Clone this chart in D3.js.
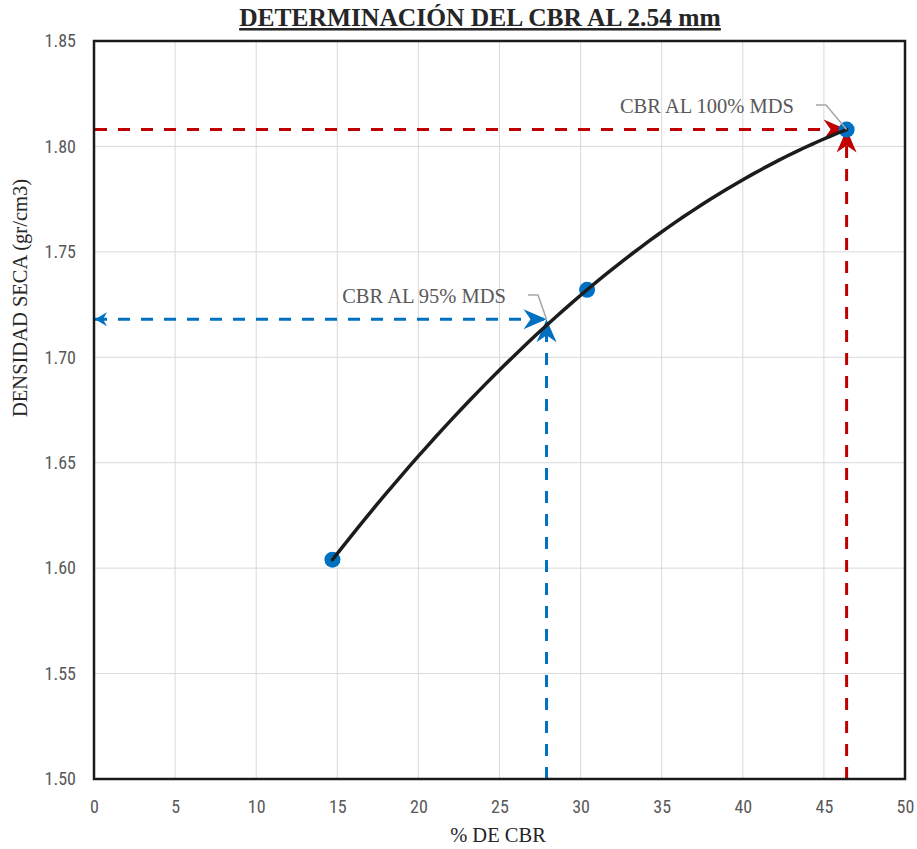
<!DOCTYPE html>
<html><head><meta charset="utf-8">
<script src="https://cdn.jsdelivr.net/npm/d3@7"></script>
<style>body{margin:0;background:#fff}</style>
</head><body><svg id="c" width="917" height="849"></svg>
<script>
const cbr = [14.7, 30.4, 46.4];
const density = [1.604, 1.732, 1.808];
const cbr95 = 27.9, dens95 = 1.718;
const cbr100 = 46.4, dens100 = 1.808;
const xTicks = [0,5,10,15,20,25,30,35,40,45,50];
const yTicks = [1.50,1.55,1.60,1.65,1.70,1.75,1.80,1.85];
const title = "DETERMINACIÓN DEL CBR AL 2.54 mm";
const xLabel = "% DE CBR";
const yLabel = "DENSIDAD SECA (gr/cm3)";
const label95 = "CBR AL 95% MDS", label100 = "CBR AL 100% MDS";

const W=917,H=849,m={l:94,r:12,t:41,b:70};
const svg=d3.select("#c");
const x=d3.scaleLinear().domain([0,50]).range([m.l,W-m.r]);
const y=d3.scaleLinear().domain([1.5,1.85]).range([H-m.b,m.t]);
const sans='"Liberation Sans Narrow","Roboto Condensed","Open Sans",sans-serif';
const serif='"Liberation Serif","DejaVu Serif",serif';

// grid
svg.append("g").selectAll("line").data(xTicks).join("line")
 .attr("x1",d=>x(d)).attr("x2",d=>x(d)).attr("y1",y(1.5)).attr("y2",y(1.85))
 .attr("stroke","#d9d9d9").attr("stroke-width",1);
svg.append("g").selectAll("line").data(yTicks).join("line")
 .attr("y1",d=>y(d)).attr("y2",d=>y(d)).attr("x1",x(0)).attr("x2",x(50))
 .attr("stroke","#d9d9d9").attr("stroke-width",1);

// axes (labels only)
const xa=svg.append("g").attr("transform",`translate(0,${y(1.5)})`)
 .call(d3.axisBottom(x).tickValues(xTicks).tickSize(0).tickPadding(21).tickFormat(d3.format("d")));
const ya=svg.append("g").attr("transform",`translate(${x(0)},0)`)
 .call(d3.axisLeft(y).tickValues(yTicks).tickSize(0).tickPadding(18).tickFormat(d3.format(".2f")));
[xa,ya].forEach(a=>{a.select(".domain").remove();
 a.selectAll("text").attr("fill","#595959").style("font-family",sans).style("font-size","18px");});

// defs arrows
const defs=svg.append("defs");
[["blue","#0070c0"],["red","#c00000"]].forEach(([id,c])=>{
 defs.append("marker").attr("id","ar-"+id).attr("viewBox","-24 -11 26 22")
  .attr("refX",0).attr("refY",0).attr("markerWidth",26).attr("markerHeight",22)
  .attr("markerUnits","userSpaceOnUse").attr("orient","auto")
  .append("path").attr("d","M0,0 L-23,-10 L-16,0 L-23,10 Z").attr("fill",c);
 defs.append("marker").attr("id","st-"+id).attr("viewBox","-2 -8 16 16")
  .attr("refX",0).attr("refY",0).attr("markerWidth",16).attr("markerHeight",16)
  .attr("markerUnits","userSpaceOnUse").attr("orient","auto")
  .append("path").attr("d","M0,0 L12,-7 L8,0 L12,7 Z").attr("fill",c);
});

// dashed guide lines
function guide(cx,cy,col,id,startArrow){
 const h=svg.append("line").attr("x1",x(0)+1).attr("y1",y(cy)).attr("x2",x(cx)).attr("y2",y(cy))
  .attr("stroke",col).attr("stroke-width",3).attr("stroke-dasharray","12,11")
  .attr("marker-end",`url(#ar-${id})`);
 if(startArrow) h.attr("marker-start",`url(#st-${id})`);
 svg.append("line").attr("x1",x(cx)).attr("y1",y(1.5)).attr("x2",x(cx)).attr("y2",y(cy))
  .attr("stroke",col).attr("stroke-width",3).attr("stroke-dasharray","12,11")
  .attr("marker-end",`url(#ar-${id})`);
}
guide(cbr95,dens95,"#0070c0","blue",true);
guide(cbr100,dens100,"#c00000","red",false);

// quadratic trendline (least squares through data)
function fitQuad(xs,ys){
 const n=xs.length;let S=[0,0,0,0,0],T=[0,0,0];
 for(let i=0;i<n;i++){for(let k=0;k<5;k++)S[k]+=Math.pow(xs[i],k);for(let k=0;k<3;k++)T[k]+=ys[i]*Math.pow(xs[i],k);}
 const A=[[S[0],S[1],S[2],T[0]],[S[1],S[2],S[3],T[1]],[S[2],S[3],S[4],T[2]]];
 for(let i=0;i<3;i++){for(let j=i+1;j<3;j++){const f=A[j][i]/A[i][i];for(let k=i;k<4;k++)A[j][k]-=f*A[i][k];}}
 const c=[0,0,0];for(let i=2;i>=0;i--){let s=A[i][3];for(let k=i+1;k<3;k++)s-=A[i][k]*c[k];c[i]=s/A[i][i];}
 return v=>c[0]+c[1]*v+c[2]*v*v;
}
const f=fitQuad(cbr,density);
const xs=d3.range(0,61).map(i=>cbr[0]+(cbr[2]-cbr[0])*i/60);

// points
svg.append("g").selectAll("circle").data(cbr.map((c,i)=>[c,density[i]])).join("circle")
 .attr("cx",d=>x(d[0])).attr("cy",d=>y(d[1])).attr("r",8).attr("fill","#0070c0");

svg.append("path").datum(xs).attr("d",d3.line().x(d=>x(d)).y(d=>y(f(d))))
 .attr("fill","none").attr("stroke","#1c1c1c").attr("stroke-width",3.5).attr("stroke-linecap","round");

// labels with leaders
function lab(txt,tx,ty,px,py){
 svg.append("polyline").attr("points",`${tx+22},${ty-8} ${tx+32},${ty-8} ${px},${py}`)
  .attr("fill","none").attr("stroke","#a6a6a6").attr("stroke-width",1.5);
 svg.append("text").attr("x",tx).attr("y",ty).attr("text-anchor","end")
  .attr("fill","#595959").style("font-family",serif).style("font-size","20.5px").text(txt);
}
lab(label95,506,303,x(cbr95),y(dens95));
lab(label100,794,113,x(cbr100),y(dens100));

// frame
svg.append("rect").attr("x",x(0)).attr("y",y(1.85)).attr("width",x(50)-x(0)).attr("height",y(1.5)-y(1.85))
 .attr("fill","none").attr("stroke","#1a1a1a").attr("stroke-width",2.5);

// titles
svg.append("text").attr("x",480).attr("y",26).attr("text-anchor","middle")
 .style("font-family",serif).style("font-size","25.5px").style("font-weight","bold")
 .style("text-decoration","underline").attr("fill","#262626").text(title);
svg.append("text").attr("x",498).attr("y",842).attr("text-anchor","middle")
 .style("font-family",serif).style("font-size","20.5px").attr("fill","#262626").text(xLabel);
svg.append("text").attr("transform","translate(27,298) rotate(-90)").attr("text-anchor","middle")
 .style("font-family",serif).style("font-size","20.5px").attr("fill","#262626").text(yLabel);
</script></body></html>
